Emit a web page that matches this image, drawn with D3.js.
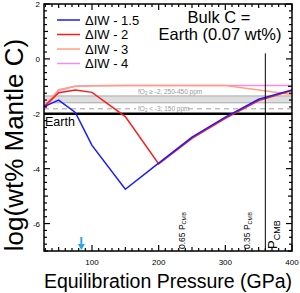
<!DOCTYPE html>
<html><head><meta charset="utf-8">
<script src="https://cdn.jsdelivr.net/npm/d3@7"></script>
<style>body{margin:0;background:#fff}svg{display:block;font-family:"Liberation Sans",Arial,sans-serif}</style>
</head><body><svg id="c" width="300" height="293"></svg>
<script>
const pressures = [28, 50, 75, 100, 150, 200, 250, 300, 350, 400];
const iw15 = [-1.74, -1.5, -1.95, -3.15, -4.75, -3.8, -2.85, -2.12, -1.47, -1.13];
const iw2  = [-1.74, -1.23, -1.13, -1.22, -2.1, -3.83, -2.9, -2.17, -1.52, -1.15];
const iw3  = [-1.74, -1.12, -1.0, -0.98, -0.97, -0.97, -0.97, -0.97, -1.13, -1.3];
const iw4  = [-1.86, -1.15, -1.0, -0.98, -0.97, -0.97, -0.97, -0.97, -0.97, -0.97];
const seriesNames = ["ΔIW - 1.5", "ΔIW - 2", "ΔIW - 3", "ΔIW - 4"];
const seriesColors = ["#1a1aff", "#ff1a1a", "#ffa07a", "#ff88ee"];
const xMajor = [100, 200, 300, 400];
const yMajor = [2, 0, -2, -4, -6];
const band = [-1.60, -1.35];   // 250-450 ppm
const dashedLevel = -1.82;     // 150 ppm
const earthLevel = -2.0;
const pcmb = 360;
const pLabels = [{x: 239, t: "0.65 P", s: "CMB"}, {x: 337, t: "0.35 P", s: "CMB"}];
const arrowX = 84;

const svg = d3.select("#c");
const x = d3.scaleLinear().domain([28, 400]).range([44, 292]);
const y = d3.scaleLinear().domain([-7, 2]).range([251, 4]);

// band
svg.append("rect").attr("x", x(28)).attr("width", x(400) - x(28))
  .attr("y", y(band[1])).attr("height", y(band[0]) - y(band[1])).attr("fill", "#dedede");
band.forEach(b => svg.append("line").attr("x1", x(28)).attr("x2", x(400)).attr("y1", y(b)).attr("y2", y(b))
  .attr("stroke", "#a8a8a8").attr("stroke-width", 1));
svg.append("text").attr("x", 138).attr("y", y(band[1]) - 2).attr("font-size", 6.5).attr("fill", "#999")
  .html('fO<tspan font-size="4.5" dy="1">2</tspan><tspan dy="-1"> ≥ -2; 250-450 ppm</tspan>');
// dashed
svg.append("line").attr("x1", x(28)).attr("x2", x(400)).attr("y1", y(dashedLevel)).attr("y2", y(dashedLevel))
  .attr("stroke", "#a0a0a0").attr("stroke-width", 1).attr("stroke-dasharray", "5,4");
svg.append("rect").attr("x", 136).attr("y", y(dashedLevel) - 3.5).attr("width", 50).attr("height", 7).attr("fill", "#fff");
svg.append("text").attr("x", 138).attr("y", y(dashedLevel) + 2).attr("font-size", 6.5).attr("fill", "#999")
  .html('fO<tspan font-size="4.5" dy="1">2</tspan><tspan dy="-1"> &lt; -3; 150 ppm</tspan>');
// earth
svg.append("line").attr("x1", x(28)).attr("x2", x(400)).attr("y1", y(earthLevel)).attr("y2", y(earthLevel))
  .attr("stroke", "#000").attr("stroke-width", 2.5);
svg.append("text").attr("x", 45).attr("y", y(earthLevel) + 12).attr("font-size", 12.5).text("Earth");

// lines
const allSeries = [iw15, iw2, iw3, iw4];
const line = d3.line().x((d, i) => x(pressures[i])).y(d => y(d));
for (let k = 3; k >= 0; k--) {
  svg.append("path").attr("d", line(allSeries[k])).attr("fill", "none")
    .attr("stroke", seriesColors[k]).attr("stroke-width", 1.5);
}

// vertical PCMB line
svg.append("line").attr("x1", x(pcmb)).attr("x2", x(pcmb)).attr("y1", y(0.2)).attr("y2", y(-7))
  .attr("stroke", "#000").attr("stroke-width", 1);
pLabels.forEach(p => {
  svg.append("text").attr("transform", `translate(${x(p.x)},249) rotate(-90)`).attr("font-size", 8.5)
    .html(`${p.t}<tspan font-size="5.5" dy="1.5">${p.s}</tspan>`);
});
svg.append("text").attr("transform", `translate(${x(pcmb) + 12},249) rotate(-90)`).attr("font-size", 13)
  .html(`P<tspan font-size="9" dy="2.5">CMB</tspan>`);

// arrow
svg.append("line").attr("x1", x(arrowX)).attr("x2", x(arrowX)).attr("y1", 237).attr("y2", 247)
  .attr("stroke", "#2aa6e6").attr("stroke-width", 2);
svg.append("path").attr("d", `M${x(arrowX) - 3.5},244 L${x(arrowX) + 3.5},244 L${x(arrowX)},250 Z`).attr("fill", "#2aa6e6");

// frame
svg.append("rect").attr("x", x(28)).attr("y", y(2)).attr("width", x(400) - x(28)).attr("height", y(-7) - y(2))
  .attr("fill", "none").attr("stroke", "#000").attr("stroke-width", 1.5);

// ticks
const xMinor = d3.range(30, 401, 10);
const yMinor = d3.range(-7, 2.001, 0.25);
xMinor.forEach(v => {
  const L = xMajor.includes(v) ? 6 : (v % 50 === 0 ? 4 : 3);
  svg.append("line").attr("x1", x(v)).attr("x2", x(v)).attr("y1", y(-7)).attr("y2", y(-7) - L).attr("stroke", "#000").attr("stroke-width", 1.2);
  svg.append("line").attr("x1", x(v)).attr("x2", x(v)).attr("y1", y(2)).attr("y2", y(2) + L).attr("stroke", "#000").attr("stroke-width", 1.2);
});
yMinor.forEach(v => {
  const isMaj = Math.abs(v - Math.round(v)) < 1e-6 && Math.round(v) % 2 === 0;
  const L = isMaj ? 6 : (Math.abs(v - Math.round(v)) < 1e-6 ? 4 : 3);
  svg.append("line").attr("x1", x(28)).attr("x2", x(28) + L).attr("y1", y(v)).attr("y2", y(v)).attr("stroke", "#000").attr("stroke-width", 1.2);
  svg.append("line").attr("x1", x(400)).attr("x2", x(400) - L).attr("y1", y(v)).attr("y2", y(v)).attr("stroke", "#000").attr("stroke-width", 1.2);
});
xMajor.forEach(v => svg.append("text").attr("x", x(v)).attr("y", 265).attr("text-anchor", "middle").attr("font-size", 8).text(v));
yMajor.forEach(v => svg.append("text").attr("x", 40).attr("y", y(v) + 3).attr("text-anchor", "end").attr("font-size", 8).text(v));

// axis titles
svg.append("text").attr("x", 168).attr("y", 288).attr("text-anchor", "middle").attr("font-size", 19.5).text("Equilibration Pressure (GPa)");
svg.append("text").attr("transform", "translate(23,145) rotate(-90)").attr("text-anchor", "middle").attr("font-size", 26).text("log(wt% Mantle C)");

// legend
seriesNames.forEach((n, i) => {
  const yy = 20 + i * 14.5;
  svg.append("line").attr("x1", 57).attr("x2", 80).attr("y1", yy).attr("y2", yy).attr("stroke", seriesColors[i]).attr("stroke-width", 1.5);
  svg.append("text").attr("x", 85).attr("y", yy + 4.6).attr("font-size", 13).text(n);
});
svg.append("text").attr("x", 219).attr("y", 23).attr("text-anchor", "middle").attr("font-size", 16.5).text("Bulk C =");
svg.append("text").attr("x", 220).attr("y", 40).attr("text-anchor", "middle").attr("font-size", 16.5).text("Earth (0.07 wt%)");
</script></body></html>
